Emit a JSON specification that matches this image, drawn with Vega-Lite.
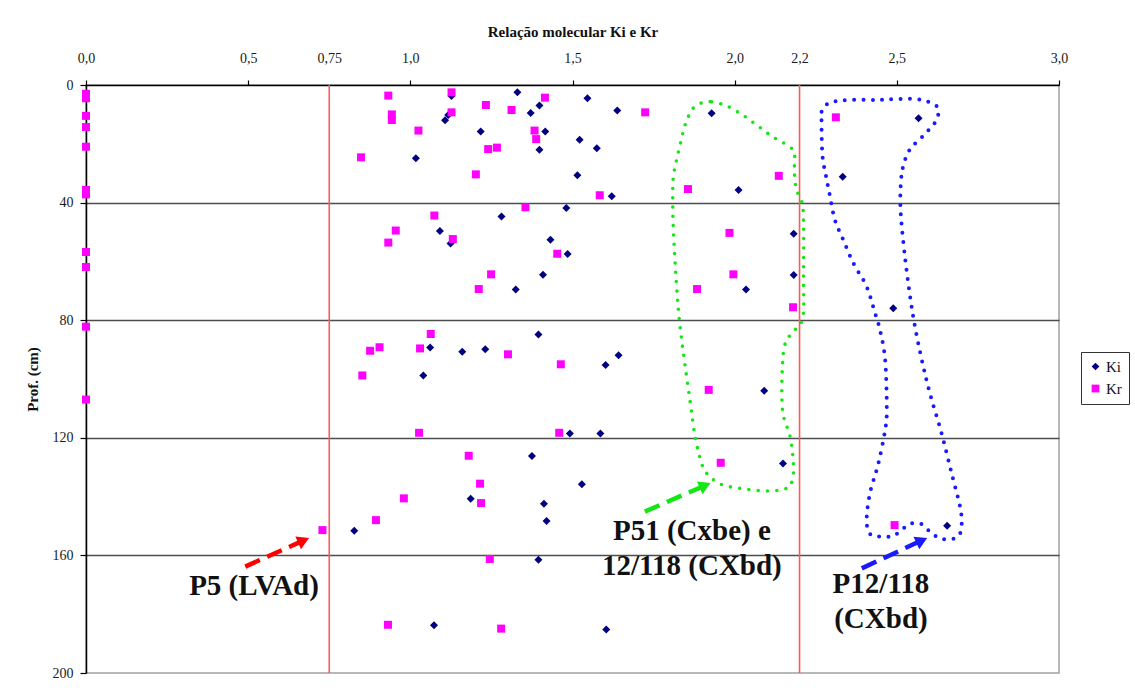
{
  "$schema": "https://vega.github.io/schema/vega-lite/v6.json",
  "width": 973,
  "height": 588,
  "autosize": {"type": "none"},
  "padding": {"left": 86, "top": 85, "right": 76, "bottom": 18},
  "background": "white",
  "config": {
    "view": {"stroke": "#a0a0a0", "strokeWidth": 1.5},
    "font": "Liberation Serif",
    "axis": {"labelFont": "Liberation Serif", "titleFont": "Liberation Serif", "labelColor": "#1a1a1a", "titleColor": "#111", "domainColor": "#000", "tickColor": "#000", "domainWidth": 1.5, "tickWidth": 1.2},
    "legend": {"labelFont": "Liberation Serif"}
  },
  "datasets": {
    "pts": [
      {"ratio": 1.127, "depth": 3.7, "serie": "Ki"},
      {"ratio": 1.117, "depth": 10.2, "serie": "Ki"},
      {"ratio": 1.107, "depth": 12, "serie": "Ki"},
      {"ratio": 1.017, "depth": 24.9, "serie": "Ki"},
      {"ratio": 1.091, "depth": 49.7, "serie": "Ki"},
      {"ratio": 1.124, "depth": 53.9, "serie": "Ki"},
      {"ratio": 1.061, "depth": 89.3, "serie": "Ki"},
      {"ratio": 1.04, "depth": 98.8, "serie": "Ki"},
      {"ratio": 1.33, "depth": 2.5, "serie": "Ki"},
      {"ratio": 1.546, "depth": 4.5, "serie": "Ki"},
      {"ratio": 1.398, "depth": 7, "serie": "Ki"},
      {"ratio": 1.371, "depth": 9.5, "serie": "Ki"},
      {"ratio": 1.638, "depth": 8.7, "serie": "Ki"},
      {"ratio": 1.217, "depth": 15.8, "serie": "Ki"},
      {"ratio": 1.416, "depth": 15.8, "serie": "Ki"},
      {"ratio": 1.522, "depth": 18.6, "serie": "Ki"},
      {"ratio": 1.398, "depth": 22, "serie": "Ki"},
      {"ratio": 1.575, "depth": 21.5, "serie": "Ki"},
      {"ratio": 1.515, "depth": 30.7, "serie": "Ki"},
      {"ratio": 1.621, "depth": 37.8, "serie": "Ki"},
      {"ratio": 1.481, "depth": 41.8, "serie": "Ki"},
      {"ratio": 1.281, "depth": 44.7, "serie": "Ki"},
      {"ratio": 1.432, "depth": 52.6, "serie": "Ki"},
      {"ratio": 1.485, "depth": 57.5, "serie": "Ki"},
      {"ratio": 1.409, "depth": 64.5, "serie": "Ki"},
      {"ratio": 1.325, "depth": 69.6, "serie": "Ki"},
      {"ratio": 1.395, "depth": 84.9, "serie": "Ki"},
      {"ratio": 1.16, "depth": 90.7, "serie": "Ki"},
      {"ratio": 1.231, "depth": 89.9, "serie": "Ki"},
      {"ratio": 1.602, "depth": 95.2, "serie": "Ki"},
      {"ratio": 1.642, "depth": 91.9, "serie": "Ki"},
      {"ratio": 1.492, "depth": 118.5, "serie": "Ki"},
      {"ratio": 1.586, "depth": 118.5, "serie": "Ki"},
      {"ratio": 1.375, "depth": 126.2, "serie": "Ki"},
      {"ratio": 1.529, "depth": 135.8, "serie": "Ki"},
      {"ratio": 1.186, "depth": 140.7, "serie": "Ki"},
      {"ratio": 1.412, "depth": 142.4, "serie": "Ki"},
      {"ratio": 1.42, "depth": 148.3, "serie": "Ki"},
      {"ratio": 1.395, "depth": 161.5, "serie": "Ki"},
      {"ratio": 1.073, "depth": 183.8, "serie": "Ki"},
      {"ratio": 1.604, "depth": 185.2, "serie": "Ki"},
      {"ratio": 0.827, "depth": 151.6, "serie": "Ki"},
      {"ratio": 1.929, "depth": 9.6, "serie": "Ki"},
      {"ratio": 2.567, "depth": 11.3, "serie": "Ki"},
      {"ratio": 2.333, "depth": 31.2, "serie": "Ki"},
      {"ratio": 2.012, "depth": 35.7, "serie": "Ki"},
      {"ratio": 2.182, "depth": 50.6, "serie": "Ki"},
      {"ratio": 2.182, "depth": 64.6, "serie": "Ki"},
      {"ratio": 2.035, "depth": 69.6, "serie": "Ki"},
      {"ratio": 2.489, "depth": 75.9, "serie": "Ki"},
      {"ratio": 2.091, "depth": 104, "serie": "Ki"},
      {"ratio": 2.149, "depth": 128.7, "serie": "Ki"},
      {"ratio": 2.655, "depth": 149.9, "serie": "Ki"},
      {"ratio": 0, "depth": 3, "serie": "Kr"},
      {"ratio": 0, "depth": 4.5, "serie": "Kr"},
      {"ratio": 0, "depth": 10.5, "serie": "Kr"},
      {"ratio": 0, "depth": 14.3, "serie": "Kr"},
      {"ratio": 0, "depth": 21, "serie": "Kr"},
      {"ratio": 0, "depth": 35.7, "serie": "Kr"},
      {"ratio": 0, "depth": 37.2, "serie": "Kr"},
      {"ratio": 0, "depth": 56.8, "serie": "Kr"},
      {"ratio": 0, "depth": 61.9, "serie": "Kr"},
      {"ratio": 0, "depth": 82.2, "serie": "Kr"},
      {"ratio": 0, "depth": 107, "serie": "Kr"},
      {"ratio": 0.932, "depth": 3.6, "serie": "Kr"},
      {"ratio": 1.127, "depth": 2.5, "serie": "Kr"},
      {"ratio": 0.943, "depth": 10, "serie": "Kr"},
      {"ratio": 0.943, "depth": 11.9, "serie": "Kr"},
      {"ratio": 1.127, "depth": 9.3, "serie": "Kr"},
      {"ratio": 1.025, "depth": 15.5, "serie": "Kr"},
      {"ratio": 0.848, "depth": 24.6, "serie": "Kr"},
      {"ratio": 1.074, "depth": 44.4, "serie": "Kr"},
      {"ratio": 0.955, "depth": 49.5, "serie": "Kr"},
      {"ratio": 0.932, "depth": 53.6, "serie": "Kr"},
      {"ratio": 1.131, "depth": 52.4, "serie": "Kr"},
      {"ratio": 1.063, "depth": 84.7, "serie": "Kr"},
      {"ratio": 0.905, "depth": 89.2, "serie": "Kr"},
      {"ratio": 0.876, "depth": 90.4, "serie": "Kr"},
      {"ratio": 1.03, "depth": 89.6, "serie": "Kr"},
      {"ratio": 0.852, "depth": 98.8, "serie": "Kr"},
      {"ratio": 1.415, "depth": 4.3, "serie": "Kr"},
      {"ratio": 1.233, "depth": 6.8, "serie": "Kr"},
      {"ratio": 1.312, "depth": 8.5, "serie": "Kr"},
      {"ratio": 1.724, "depth": 9.3, "serie": "Kr"},
      {"ratio": 1.383, "depth": 15.5, "serie": "Kr"},
      {"ratio": 1.388, "depth": 18.4, "serie": "Kr"},
      {"ratio": 1.24, "depth": 21.8, "serie": "Kr"},
      {"ratio": 1.267, "depth": 21.3, "serie": "Kr"},
      {"ratio": 1.202, "depth": 30.4, "serie": "Kr"},
      {"ratio": 1.584, "depth": 37.5, "serie": "Kr"},
      {"ratio": 1.856, "depth": 35.4, "serie": "Kr"},
      {"ratio": 1.355, "depth": 41.6, "serie": "Kr"},
      {"ratio": 1.453, "depth": 57.4, "serie": "Kr"},
      {"ratio": 1.249, "depth": 64.4, "serie": "Kr"},
      {"ratio": 1.211, "depth": 69.4, "serie": "Kr"},
      {"ratio": 1.884, "depth": 69.4, "serie": "Kr"},
      {"ratio": 1.301, "depth": 91.6, "serie": "Kr"},
      {"ratio": 1.464, "depth": 95, "serie": "Kr"},
      {"ratio": 1.027, "depth": 118.3, "serie": "Kr"},
      {"ratio": 1.459, "depth": 118.3, "serie": "Kr"},
      {"ratio": 1.18, "depth": 126.1, "serie": "Kr"},
      {"ratio": 1.215, "depth": 135.6, "serie": "Kr"},
      {"ratio": 0.98, "depth": 140.6, "serie": "Kr"},
      {"ratio": 1.218, "depth": 142.2, "serie": "Kr"},
      {"ratio": 1.245, "depth": 161.2, "serie": "Kr"},
      {"ratio": 0.931, "depth": 183.6, "serie": "Kr"},
      {"ratio": 1.28, "depth": 184.9, "serie": "Kr"},
      {"ratio": 0.894, "depth": 148, "serie": "Kr"},
      {"ratio": 0.729, "depth": 151.4, "serie": "Kr"},
      {"ratio": 2.312, "depth": 11, "serie": "Kr"},
      {"ratio": 2.136, "depth": 30.9, "serie": "Kr"},
      {"ratio": 1.984, "depth": 50.3, "serie": "Kr"},
      {"ratio": 1.996, "depth": 64.4, "serie": "Kr"},
      {"ratio": 2.18, "depth": 75.6, "serie": "Kr"},
      {"ratio": 1.92, "depth": 103.7, "serie": "Kr"},
      {"ratio": 1.957, "depth": 128.5, "serie": "Kr"},
      {"ratio": 2.493, "depth": 149.7, "serie": "Kr"}
    ],
    "limits": [{"ratio": 0.75}, {"ratio": 2.2}],
    "green": [
      {"k": 0, "ratio": 1.929, "depth": 5.7}, {"k": 1, "ratio": 1.973, "depth": 7.0}, {"k": 2, "ratio": 2.022, "depth": 10.0}, {"k": 3, "ratio": 2.07, "depth": 13.8}, {"k": 4, "ratio": 2.117, "depth": 17.6}, {"k": 5, "ratio": 2.164, "depth": 20.6}, {"k": 6, "ratio": 2.184, "depth": 23.2}, {"k": 7, "ratio": 2.184, "depth": 29.7}, {"k": 8, "ratio": 2.191, "depth": 35.7}, {"k": 9, "ratio": 2.207, "depth": 39.7}, {"k": 10, "ratio": 2.212, "depth": 45.9}, {"k": 11, "ratio": 2.212, "depth": 66.3}, {"k": 12, "ratio": 2.209, "depth": 79.7}, {"k": 13, "ratio": 2.171, "depth": 85.0}, {"k": 14, "ratio": 2.15, "depth": 91.3}, {"k": 15, "ratio": 2.147, "depth": 110.0}, {"k": 16, "ratio": 2.171, "depth": 119.6}, {"k": 17, "ratio": 2.181, "depth": 128.7}, {"k": 18, "ratio": 2.178, "depth": 134.4}, {"k": 19, "ratio": 2.16, "depth": 137.2}, {"k": 20, "ratio": 2.099, "depth": 138.1}, {"k": 21, "ratio": 2.016, "depth": 137.2}, {"k": 22, "ratio": 1.955, "depth": 135.7}, {"k": 23, "ratio": 1.914, "depth": 132.1}, {"k": 24, "ratio": 1.898, "depth": 128.7}, {"k": 25, "ratio": 1.878, "depth": 119.6}, {"k": 26, "ratio": 1.862, "depth": 107.1}, {"k": 27, "ratio": 1.842, "depth": 91.3}, {"k": 28, "ratio": 1.829, "depth": 79.4}, {"k": 29, "ratio": 1.821, "depth": 68.6}, {"k": 30, "ratio": 1.811, "depth": 49.3}, {"k": 31, "ratio": 1.809, "depth": 38.0}, {"k": 32, "ratio": 1.811, "depth": 31.2}, {"k": 33, "ratio": 1.821, "depth": 25.5}, {"k": 34, "ratio": 1.834, "depth": 19.3}, {"k": 35, "ratio": 1.849, "depth": 13.0}, {"k": 36, "ratio": 1.872, "depth": 7.9}, {"k": 37, "ratio": 1.903, "depth": 5.9}, {"k": 38, "ratio": 1.929, "depth": 5.7}
    ],
    "blue": [
      {"k": 0, "ratio": 2.268, "depth": 9.1}, {"k": 1, "ratio": 2.289, "depth": 6.2}, {"k": 2, "ratio": 2.345, "depth": 5.1}, {"k": 3, "ratio": 2.433, "depth": 5.1}, {"k": 4, "ratio": 2.474, "depth": 4.9}, {"k": 5, "ratio": 2.561, "depth": 4.8}, {"k": 6, "ratio": 2.618, "depth": 6.8}, {"k": 7, "ratio": 2.628, "depth": 9.4}, {"k": 8, "ratio": 2.618, "depth": 12.7}, {"k": 9, "ratio": 2.582, "depth": 17.2}, {"k": 10, "ratio": 2.541, "depth": 21.8}, {"k": 11, "ratio": 2.52, "depth": 27.4}, {"k": 12, "ratio": 2.512, "depth": 34.0}, {"k": 13, "ratio": 2.512, "depth": 43.6}, {"k": 14, "ratio": 2.525, "depth": 58.4}, {"k": 15, "ratio": 2.541, "depth": 72.0}, {"k": 16, "ratio": 2.556, "depth": 82.2}, {"k": 17, "ratio": 2.577, "depth": 93.5}, {"k": 18, "ratio": 2.602, "depth": 104.9}, {"k": 19, "ratio": 2.638, "depth": 118.5}, {"k": 20, "ratio": 2.669, "depth": 132.1}, {"k": 21, "ratio": 2.695, "depth": 143.4}, {"k": 22, "ratio": 2.7, "depth": 149.1}, {"k": 23, "ratio": 2.695, "depth": 152.5}, {"k": 24, "ratio": 2.674, "depth": 154.4}, {"k": 25, "ratio": 2.633, "depth": 154.2}, {"k": 26, "ratio": 2.602, "depth": 151.9}, {"k": 27, "ratio": 2.577, "depth": 149.4}, {"k": 28, "ratio": 2.546, "depth": 149.1}, {"k": 29, "ratio": 2.52, "depth": 150.8}, {"k": 30, "ratio": 2.489, "depth": 153.4}, {"k": 31, "ratio": 2.448, "depth": 153.6}, {"k": 32, "ratio": 2.417, "depth": 152.7}, {"k": 33, "ratio": 2.407, "depth": 148.0}, {"k": 34, "ratio": 2.417, "depth": 138.9}, {"k": 35, "ratio": 2.443, "depth": 128.7}, {"k": 36, "ratio": 2.464, "depth": 117.3}, {"k": 37, "ratio": 2.469, "depth": 110.0}, {"k": 38, "ratio": 2.464, "depth": 93.5}, {"k": 39, "ratio": 2.448, "depth": 83.3}, {"k": 40, "ratio": 2.433, "depth": 77.7}, {"k": 41, "ratio": 2.407, "depth": 68.6}, {"k": 42, "ratio": 2.366, "depth": 60.6}, {"k": 43, "ratio": 2.335, "depth": 52.7}, {"k": 44, "ratio": 2.309, "depth": 45.9}, {"k": 45, "ratio": 2.292, "depth": 36.8}, {"k": 46, "ratio": 2.282, "depth": 31.2}, {"k": 47, "ratio": 2.271, "depth": 24.4}, {"k": 48, "ratio": 2.268, "depth": 15.3}, {"k": 49, "ratio": 2.268, "depth": 9.1}
    ],
    "arrowRed": [{"k": 0, "ratio": 0.491, "depth": 163.8}, {"k": 1, "ratio": 0.671, "depth": 154.9}],
    "arrowGreen": [{"k": 0, "ratio": 1.723, "depth": 145.1}, {"k": 1, "ratio": 1.909, "depth": 136.2}],
    "arrowBlue": [{"k": 0, "ratio": 2.392, "depth": 164.4}, {"k": 1, "ratio": 2.577, "depth": 154.9}],
    "headRed": [{"ratio": 0.671, "depth": 154.9}],
    "headGreen": [{"ratio": 1.909, "depth": 136.2}],
    "headBlue": [{"ratio": 2.577, "depth": 154.9}],
    "labels": [
      {"ratio": 0.518, "depth": 173.5, "label": "P5 (LVAd)"},
      {"ratio": 1.868, "depth": 154.8, "label": "P51 (Cxbe) e"},
      {"ratio": 1.868, "depth": 166.7, "label": "12/118 (CXbd)"},
      {"ratio": 2.451, "depth": 172.9, "label": "P12/118"},
      {"ratio": 2.451, "depth": 184.8, "label": "(CXbd)"}
    ]
  },
  "layer": [
    {
      "data": {"name": "limits"},
      "mark": {"type": "rule", "color": "#ff5a5a", "strokeWidth": 1.6},
      "encoding": {
        "x": {"field": "ratio", "type": "quantitative", "title": "Relação molecular Ki e Kr",
          "scale": {"domain": [0, 3], "nice": false, "zero": false},
          "axis": {"orient": "top", "values": [0, 0.5, 0.75, 1, 1.5, 2, 2.2, 2.5, 3],
            "labelExpr": "datum.value == 0.75 ? '0,75' : replace(format(datum.value, '.1f'), '.', ',')",
            "grid": false, "tickSize": 5, "labelPadding": 15, "labelFontSize": 14, "labelFlush": false,
            "tickOpacity": {"condition": {"test": "datum.value == 0.75 || datum.value == 2.2", "value": 0}, "value": 1},
            "titleFontSize": 15, "titleFontWeight": "bold", "titlePadding": 12}}
      }
    },
    {
      "data": {"name": "green"},
      "mark": {"type": "line", "color": "#16e616", "strokeWidth": 3.6, "strokeDash": [0, 9.3], "strokeCap": "round", "interpolate": "cardinal"},
      "encoding": {
        "x": {"field": "ratio", "type": "quantitative", "title": "Relação molecular Ki e Kr"},
        "y": {"field": "depth", "type": "quantitative", "title": "Prof. (cm)"},
        "order": {"field": "k", "type": "quantitative"}
      }
    },
    {
      "data": {"name": "blue"},
      "mark": {"type": "line", "color": "#1a1aff", "strokeWidth": 4, "strokeDash": [0, 9.3], "strokeCap": "round", "interpolate": "cardinal"},
      "encoding": {
        "x": {"field": "ratio", "type": "quantitative", "title": "Relação molecular Ki e Kr"},
        "y": {"field": "depth", "type": "quantitative", "title": "Prof. (cm)"},
        "order": {"field": "k", "type": "quantitative"}
      }
    },
    {
      "data": {"name": "pts"},
      "mark": {"type": "point", "filled": true, "opacity": 1, "size": 64},
      "encoding": {
        "x": {"field": "ratio", "type": "quantitative", "title": "Relação molecular Ki e Kr"},
        "y": {"field": "depth", "type": "quantitative", "title": "Prof. (cm)",
          "scale": {"domain": [0, 200], "nice": false, "zero": false, "reverse": true},
          "axis": {"values": [0, 40, 80, 120, 160, 200], "grid": true, "gridColor": "#4d4d4d", "gridWidth": 1.6,
            "gridOpacity": {"condition": {"test": "datum.value == 0 || datum.value == 200", "value": 0}, "value": 1},
            "tickSize": 6, "labelPadding": 7, "labelFontSize": 14,
            "titleFontSize": 15, "titleFontWeight": "bold", "titlePadding": 12}},
        "color": {"field": "serie", "type": "nominal", "title": null,
          "scale": {"domain": ["Ki", "Kr"], "range": ["#000080", "#ff00ff"]},
          "legend": {"orient": "none", "legendX": 995, "legendY": 267, "strokeColor": "#333", "padding": 7,
            "labelFontSize": 15, "labelColor": "#111", "symbolSize": 60, "rowPadding": 6, "labelOffset": 3}},
        "shape": {"field": "serie", "type": "nominal", "title": null,
          "scale": {"domain": ["Ki", "Kr"], "range": ["diamond", "square"]}}
      }
    },
    {
      "data": {"name": "arrowRed"},
      "mark": {"type": "line", "color": "#ff0000", "strokeWidth": 4.5, "strokeDash": [16, 8]},
      "encoding": {
        "x": {"field": "ratio", "type": "quantitative", "title": "Relação molecular Ki e Kr"},
        "y": {"field": "depth", "type": "quantitative", "title": "Prof. (cm)"},
        "order": {"field": "k", "type": "quantitative"}
      }
    },
    {
      "data": {"name": "arrowGreen"},
      "mark": {"type": "line", "color": "#16e616", "strokeWidth": 4.5, "strokeDash": [16, 8]},
      "encoding": {
        "x": {"field": "ratio", "type": "quantitative", "title": "Relação molecular Ki e Kr"},
        "y": {"field": "depth", "type": "quantitative", "title": "Prof. (cm)"},
        "order": {"field": "k", "type": "quantitative"}
      }
    },
    {
      "data": {"name": "arrowBlue"},
      "mark": {"type": "line", "color": "#1a1aff", "strokeWidth": 4.5, "strokeDash": [16, 8]},
      "encoding": {
        "x": {"field": "ratio", "type": "quantitative", "title": "Relação molecular Ki e Kr"},
        "y": {"field": "depth", "type": "quantitative", "title": "Prof. (cm)"},
        "order": {"field": "k", "type": "quantitative"}
      }
    },
    {
      "data": {"name": "headRed"},
      "mark": {"type": "point", "shape": "triangle-up", "filled": true, "opacity": 1, "color": "#ff0000", "size": 190, "angle": 66},
      "encoding": {
        "x": {"field": "ratio", "type": "quantitative", "title": "Relação molecular Ki e Kr"},
        "y": {"field": "depth", "type": "quantitative", "title": "Prof. (cm)"}
      }
    },
    {
      "data": {"name": "headGreen"},
      "mark": {"type": "point", "shape": "triangle-up", "filled": true, "opacity": 1, "color": "#16e616", "size": 190, "angle": 66},
      "encoding": {
        "x": {"field": "ratio", "type": "quantitative", "title": "Relação molecular Ki e Kr"},
        "y": {"field": "depth", "type": "quantitative", "title": "Prof. (cm)"}
      }
    },
    {
      "data": {"name": "headBlue"},
      "mark": {"type": "point", "shape": "triangle-up", "filled": true, "opacity": 1, "color": "#1a1aff", "size": 190, "angle": 65},
      "encoding": {
        "x": {"field": "ratio", "type": "quantitative", "title": "Relação molecular Ki e Kr"},
        "y": {"field": "depth", "type": "quantitative", "title": "Prof. (cm)"}
      }
    },
    {
      "data": {"name": "labels"},
      "mark": {"type": "text", "font": "Liberation Serif", "fontWeight": "bold", "fontSize": 29, "color": "#111", "align": "center", "baseline": "alphabetic"},
      "encoding": {
        "x": {"field": "ratio", "type": "quantitative", "title": "Relação molecular Ki e Kr"},
        "y": {"field": "depth", "type": "quantitative", "title": "Prof. (cm)"},
        "text": {"field": "label", "type": "nominal"}
      }
    }
  ]
}
